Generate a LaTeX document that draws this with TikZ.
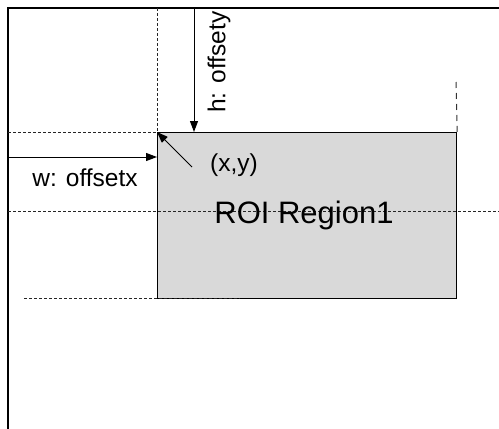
\documentclass[tikz,border=0pt]{standalone}
\usepackage{fontspec}
\setmainfont{Liberation Sans}
\usetikzlibrary{arrows.meta}
\begin{document}
\begin{tikzpicture}[x=1pt,y=-1pt,
  frame/.style={line width=1.2pt,black},
  guide/.style={line width=0.7pt,dash pattern=on 3pt off 2pt,black!85},
  longdash/.style={line width=1pt,dash pattern=on 6pt off 5pt,black!80},
  arr/.style={line width=1pt,-{Triangle[length=11pt,width=8pt]}},
  lbl/.style={font=\fontsize{24.5}{28}\selectfont,inner sep=0pt}]
\useasboundingbox (0,0) rectangle (499,429);
% outer frame
\coordinate (fbl) at (8,429);
\coordinate (ftl) at (8,8);
\coordinate (ftr) at (499,8);
\draw[frame] (fbl) -- (ftl) -- (ftr);
% ROI rectangle
\node[draw,line width=1.2pt,fill=black!15,minimum width=299pt,minimum height=166pt,inner sep=0pt,anchor=north west] (roi) at (157,132) {};
% guides
\coordinate (gv1) at (157,8);
\coordinate (gh1) at (8,132);
\draw[guide] (gv1) -- (roi.north west);
\draw[guide] (gh1) -- (roi.north west);
\coordinate (gh2a) at (8,211);
\coordinate (gh2b) at (499,211);
\draw[guide] (gh2a) -- (gh2b);
\coordinate (gh3a) at (24,298);
\coordinate (gh3b) at (240,298);
\draw[guide] (gh3a) -- (gh3b);
\coordinate (rv) at (456,82);
\draw[longdash] (rv) -- (roi.north east);
% arrows
\coordinate (ha) at (194,8);
\coordinate (hb) at (194,132);
\draw[arr] (ha) -- (hb);
\coordinate (wa) at (8,157);
\coordinate (wb) at (157,157);
\draw[arr] (wa) -- (wb);
\coordinate (da) at (192,167);
\draw[arr] (da) -- (roi.north west);
% labels
\node[lbl,rotate=90] (hl) at (219,62) {h: offsety};
\node[lbl] (wl) at (85,178) {w: offsetx};
\node[lbl] (xy) at (234,165) {(x,y)};
\node[font=\fontsize{31}{36}\selectfont,inner sep=0pt] (rl) at (304,215) {ROI Region1};
\end{tikzpicture}
\end{document}
